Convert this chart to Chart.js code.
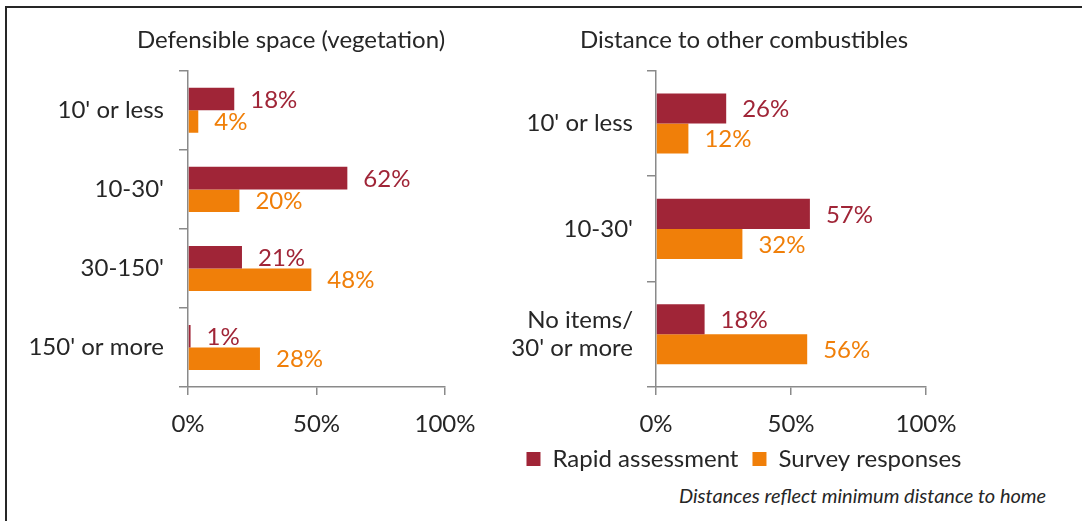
<!DOCTYPE html>
<html>
<head>
<meta charset="utf-8">
<script src="https://cdn.jsdelivr.net/npm/chart.js@4.4.1/dist/chart.umd.min.js"></script>
<style>
  body { margin: 0; background: #fff; width: 1082px; height: 521px; overflow: hidden; position: relative; font-family: Lato, sans-serif; }
  .frame { position: absolute; left: 5px; top: 6px; width: 1100px; height: 540px; border-top: 2px solid #262626; border-left: 2px solid #262626; }
  #vegChart { position: absolute; left: 0; top: 0; }
  #combChart { position: absolute; left: 479px; top: 0; }
  .note { position: absolute; left: 679px; top: 483px; font-style: italic; font-size: 20px; color: #262626; white-space: nowrap; }
</style>
</head>
<body>
<div class="frame"></div>
<canvas id="vegChart" width="582" height="450"></canvas>
<canvas id="combChart" width="530" height="481"></canvas>
<div class="note">Distances reflect minimum distance to home</div>

<script>
// values (percent)
const vegCategories = ["10' or less", "10-30'", "30-150'", "150' or more"];
const vegRapid = [18, 62, 21, 1];
const vegSurvey = [4, 20, 48, 28];

const combCategories = ["10' or less", "10-30'", ["No items/", "30' or more"]];
const combRapid = [26, 57, 18];
const combSurvey = [12, 32, 56];

const seriesNames = ['Rapid assessment', 'Survey responses'];
const xTickValues = [0, 50, 100];

const RED = '#a02537';
const ORANGE = '#f07f09';
const AXIS = '#8a8a8a';
const TEXT = '#262626';
const FONT = 'Lato';
const FONT_SIZE = 24;

// draws the "18%" style labels just past the end of each bar
const valueLabels = {
    id: 'valueLabels',
    afterDatasetsDraw(chart) {
        const ctx = chart.ctx;
        ctx.save();
        ctx.font = FONT_SIZE + 'px ' + FONT;
        ctx.textBaseline = 'middle';
        ctx.textAlign = 'left';
        chart.data.datasets.forEach((ds, i) => {
            ctx.fillStyle = ds.backgroundColor;
            chart.getDatasetMeta(i).data.forEach((bar, j) => {
                ctx.fillText(ds.data[j] + '%', bar.x + 16, bar.y + 1);
            });
        });
        ctx.restore();
    }
};

function makeChart(id, title, categories, rapid, survey, opts) {
    const ctx = document.getElementById(id).getContext('2d');
    return new Chart(ctx, {
        type: 'bar',
        data: {
            labels: categories,
            datasets: [
                { label: seriesNames[0], data: rapid, backgroundColor: RED, categoryPercentage: 0.57, barPercentage: 1 },
                { label: seriesNames[1], data: survey, backgroundColor: ORANGE, categoryPercentage: 0.57, barPercentage: 1 }
            ]
        },
        options: {
            indexAxis: 'y',
            responsive: false,
            animation: false,
            layout: { padding: 0 },
            scales: {
                x: {
                    min: 0, max: 100,
                    afterBuildTicks: (scale) => { scale.ticks = xTickValues.map(v => ({ value: v })); },
                    afterFit: (scale) => {
                        // keep the plot bottom at the same height in both charts
                        const legendH = opts.legend ? scale.chart.legend.height : 0;
                        scale.height = scale.chart.height - legendH - 387;
                        scale.paddingRight = opts.padRight;
                    },
                    grid: { drawOnChartArea: false, tickLength: 8, color: AXIS, lineWidth: 1.5 },
                    border: { color: AXIS, width: 1.5 },
                    ticks: {
                        padding: 15,
                        color: TEXT,
                        font: { family: FONT, size: FONT_SIZE },
                        callback: v => v + '%'
                    }
                },
                y: {
                    afterFit: (scale) => { scale.width = opts.axisLeft; },
                    grid: { drawOnChartArea: false, tickLength: 9, color: AXIS, lineWidth: 1.5 },
                    border: { color: AXIS, width: 1.5 },
                    ticks: {
                        padding: opts.labelPad,
                        color: TEXT,
                        font: { family: FONT, size: FONT_SIZE }
                    }
                }
            },
            plugins: {
                title: {
                    display: true,
                    text: title,
                    color: TEXT,
                    font: { family: FONT, size: FONT_SIZE, weight: 'normal' },
                    padding: { top: 26, bottom: 16 }
                },
                legend: {
                    display: opts.legend,
                    position: 'bottom',
                    labels: {
                        boxWidth: 14,
                        boxHeight: 14,
                        padding: 14,
                        color: TEXT,
                        font: { family: FONT, size: FONT_SIZE }
                    }
                },
                tooltip: { enabled: false }
            }
        },
        plugins: [valueLabels]
    });
}

makeChart('vegChart', 'Defensible space (vegetation)', vegCategories, vegRapid, vegSurvey,
    { axisLeft: 188, padRight: 137, labelPad: 15, legend: false });
makeChart('combChart', 'Distance to other combustibles', combCategories, combRapid, combSurvey,
    { axisLeft: 177, padRight: 83, labelPad: 14, legend: true });
</script>
</body>
</html>
